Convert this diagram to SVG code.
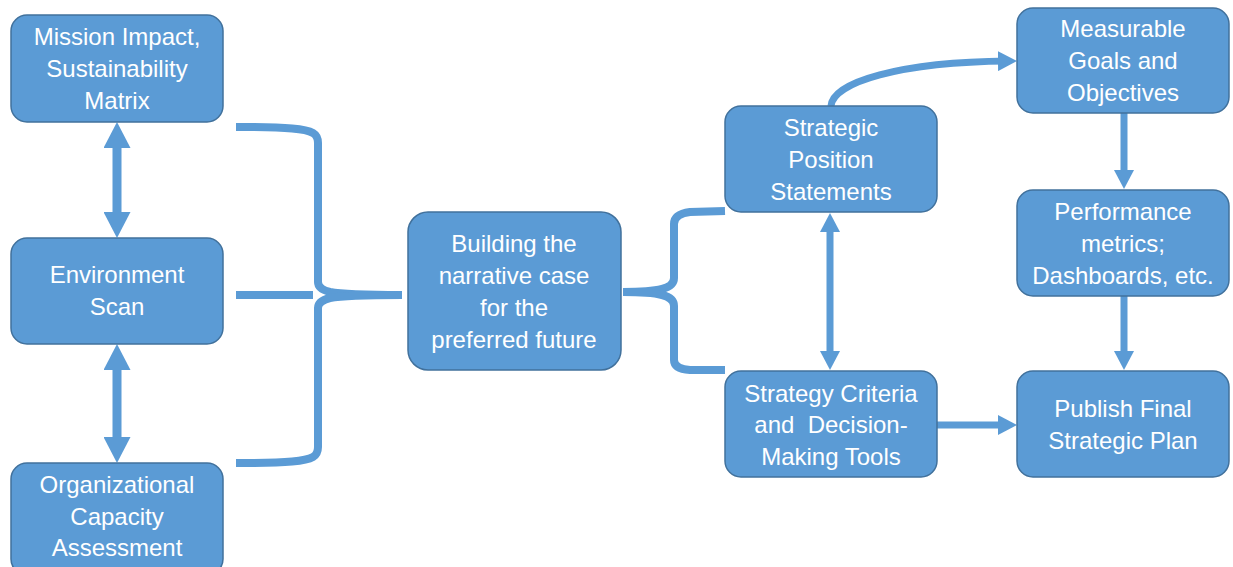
<svg xmlns="http://www.w3.org/2000/svg" width="1233" height="567" viewBox="0 0 1233 567">
  <style>
    .box { fill: #5B9BD5; stroke: #41719C; stroke-width: 1.5; }
    .lbl { fill: #FFFFFF; font-family: "Liberation Sans", Arial, sans-serif; font-size: 24px; text-anchor: middle; }
    .conn { fill: none; stroke: #5B9BD5; stroke-width: 8; }
    .conn-wide { fill: none; stroke: #5B9BD5; stroke-width: 9; }
    .conn-thin { fill: none; stroke: #5B9BD5; stroke-width: 7; }
  </style>
  <defs>
    <marker id="head" markerUnits="userSpaceOnUse" viewBox="0 0 26 27" markerWidth="26" markerHeight="27" refX="13" refY="13.5" orient="auto-start-reverse">
      <path d="M0,0 L26,13.5 L0,27 z" fill="#5B9BD5"/>
    </marker>
    <marker id="head-sm" markerUnits="userSpaceOnUse" viewBox="0 0 19 20" markerWidth="19" markerHeight="20" refX="10" refY="10" orient="auto-start-reverse">
      <path d="M0,0 L19,10 L0,20 z" fill="#5B9BD5"/>
    </marker>
  </defs>
  <rect width="1233" height="567" fill="#FFFFFF"/>

  <g id="connectors">
    <!-- left column double arrows -->
    <line class="conn-wide" x1="117" y1="135" x2="117" y2="225" marker-start="url(#head)" marker-end="url(#head)"/>
    <line class="conn-wide" x1="117" y1="357" x2="117" y2="450" marker-start="url(#head)" marker-end="url(#head)"/>
    <!-- left brace gathering the three inputs -->
    <path class="conn" d="M236,127 C290,127 306,129 313,133 Q318,136 318,143 L318,282 Q318,289 330,292 Q345,295 402,295"/>
    <path class="conn" d="M236,463 C290,463 306,461 313,457 Q318,454 318,447 L318,308 Q318,301 330,298 Q345,295 402,295"/>
    <line class="conn" x1="236" y1="295" x2="313" y2="295"/>
    <!-- right brace splitting into two branches -->
    <path class="conn" d="M623,292 Q650,292 662,289 Q674,286 674,278 L674,224 Q674,214 690,212 L725,211"/>
    <path class="conn" d="M623,292 Q650,292 662,295 Q674,298 674,306 L674,360 Q674,369 690,370 L725,370"/>
    <!-- strategic position <-> strategy criteria -->
    <line class="conn-thin" x1="830" y1="222" x2="830" y2="361" marker-start="url(#head-sm)" marker-end="url(#head-sm)"/>
    <!-- curved arrow up to goals -->
    <path class="conn-thin" d="M831,106 C833,82 900,62 1008,61" marker-end="url(#head-sm)"/>
    <!-- goals -> metrics -> publish -->
    <line class="conn-thin" x1="1124" y1="113" x2="1124" y2="180" marker-end="url(#head-sm)"/>
    <line class="conn-thin" x1="1124" y1="296" x2="1124" y2="361" marker-end="url(#head-sm)"/>
    <!-- criteria -> publish -->
    <line class="conn-thin" x1="937" y1="425" x2="1008" y2="425" marker-end="url(#head-sm)"/>
  </g>

  <g id="mission-impact">
    <rect class="box" x="11" y="15" width="212" height="107" rx="16"/>
    <text class="lbl" x="117" y="45">Mission Impact,</text>
    <text class="lbl" x="117" y="77">Sustainability</text>
    <text class="lbl" x="117" y="109">Matrix</text>
  </g>
  <g id="environment-scan">
    <rect class="box" x="11" y="238" width="212" height="106" rx="16"/>
    <text class="lbl" x="117" y="283">Environment</text>
    <text class="lbl" x="117" y="315">Scan</text>
  </g>
  <g id="org-capacity">
    <rect class="box" x="11" y="463" width="212" height="112" rx="16"/>
    <text class="lbl" x="117" y="493">Organizational</text>
    <text class="lbl" x="117" y="525">Capacity</text>
    <text class="lbl" x="117" y="556">Assessment</text>
  </g>
  <g id="narrative">
    <rect class="box" x="408" y="212" width="213" height="158" rx="20"/>
    <text class="lbl" x="514" y="252">Building the</text>
    <text class="lbl" x="514" y="284">narrative case</text>
    <text class="lbl" x="514" y="316">for the</text>
    <text class="lbl" x="514" y="348">preferred future</text>
  </g>
  <g id="position-statements">
    <rect class="box" x="725" y="106" width="212" height="106" rx="16"/>
    <text class="lbl" x="831" y="136">Strategic</text>
    <text class="lbl" x="831" y="168">Position</text>
    <text class="lbl" x="831" y="200">Statements</text>
  </g>
  <g id="strategy-criteria">
    <rect class="box" x="725" y="371" width="212" height="106" rx="16"/>
    <text class="lbl" x="831" y="402">Strategy Criteria</text>
    <text class="lbl" x="831" y="433" xml:space="preserve">and  Decision-</text>
    <text class="lbl" x="831" y="465">Making Tools</text>
  </g>
  <g id="goals">
    <rect class="box" x="1017" y="8" width="212" height="105" rx="16"/>
    <text class="lbl" x="1123" y="37">Measurable</text>
    <text class="lbl" x="1123" y="69">Goals and</text>
    <text class="lbl" x="1123" y="101">Objectives</text>
  </g>
  <g id="metrics">
    <rect class="box" x="1017" y="190" width="212" height="106" rx="16"/>
    <text class="lbl" x="1123" y="220">Performance</text>
    <text class="lbl" x="1123" y="252">metrics;</text>
    <text class="lbl" x="1123" y="284">Dashboards, etc.</text>
  </g>
  <g id="publish">
    <rect class="box" x="1017" y="371" width="212" height="106" rx="16"/>
    <text class="lbl" x="1123" y="417">Publish Final</text>
    <text class="lbl" x="1123" y="449">Strategic Plan</text>
  </g>
</svg>
